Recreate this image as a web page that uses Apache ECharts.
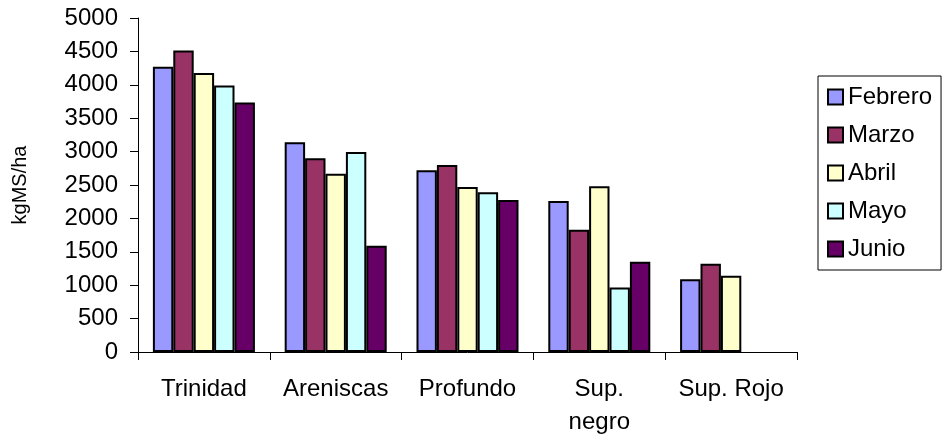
<!DOCTYPE html>
<html>
<head>
<meta charset="utf-8">
<script src="https://cdn.jsdelivr.net/npm/echarts@6/dist/echarts.min.js"></script>
<style>
  html, body { margin: 0; padding: 0; background: #fff; }
  #chart { width: 943px; height: 436px; }
</style>
</head>
<body>
<div id="chart"></div>
<script>
// Forage dry matter (kgMS/ha) by soil type and month
const categories = ['Trinidad', 'Areniscas', 'Profundo', 'Sup.\nnegro', 'Sup. Rojo'];
const months = ['Febrero', 'Marzo', 'Abril', 'Mayo', 'Junio'];
const febrero = [4270, 3140, 2720, 2260, 1090];
const marzo   = [4515, 2900, 2800, 1830, 1320];
const abril   = [4175, 2670, 2470, 2480, 1140];
const mayo    = [3990, 2995, 2390, 965, null];
const junio   = [3735, 1590, 2275, 1350, null];
const colors  = ['#9999FF', '#993366', '#FFFFCC', '#CCFFFF', '#660066'];
const yTicks  = { min: 0, max: 5000, interval: 500 };

const seriesValues = [febrero, marzo, abril, mayo, junio];
const font = '"Liberation Sans", Arial, sans-serif';

const chart = echarts.init(document.getElementById('chart'), null, { renderer: 'canvas' });
chart.setOption({
  animation: false,
  backgroundColor: '#ffffff',
  textStyle: { fontFamily: font, color: '#000' },
  grid: { left: 138, right: 146, top: 18, bottom: 84, containLabel: false, outerBoundsMode: 'none' },
  legend: {
    orient: 'vertical',
    left: 818,
    top: 76,
    padding: [9, 9, 9, 9],
    itemGap: 14,
    itemWidth: 15,
    itemHeight: 15,
    itemTextGap: 7,
    borderColor: '#000',
    borderWidth: 1,
    icon: 'rect',
    itemStyle: { borderColor: '#000', borderWidth: 2 },
    textStyle: { fontFamily: font, fontSize: 24, color: '#000', lineHeight: 24 },
    data: months
  },
  xAxis: {
    type: 'category',
    data: categories,
    axisLine: { lineStyle: { color: '#000', width: 1 } },
    axisTick: { show: true, length: 8, lineStyle: { color: '#000' } },
    axisLabel: { interval: 0, fontFamily: font, fontSize: 24, color: '#000', margin: 21, lineHeight: 33 }
  },
  yAxis: {
    type: 'value',
    min: yTicks.min,
    max: yTicks.max,
    interval: yTicks.interval,
    name: 'kgMS/ha',
    nameLocation: 'middle',
    nameGap: 108,
    nameRotate: 90,
    nameTextStyle: { fontFamily: font, fontSize: 20, color: '#000' },
    axisLine: { show: true, lineStyle: { color: '#000', width: 1 } },
    axisTick: { show: true, length: 8, lineStyle: { color: '#000' } },
    axisLabel: { fontFamily: font, fontSize: 24, color: '#000', margin: 20, formatter: v => String(v) },
    splitLine: { show: false }
  },
  series: months.map((m, i) => ({
    name: m,
    type: 'bar',
    data: seriesValues[i],
    barGap: 0,
    barCategoryGap: '22.6%',
    itemStyle: { color: colors[i], borderColor: '#000', borderWidth: 2 }
  }))
});
</script>
</body>
</html>
